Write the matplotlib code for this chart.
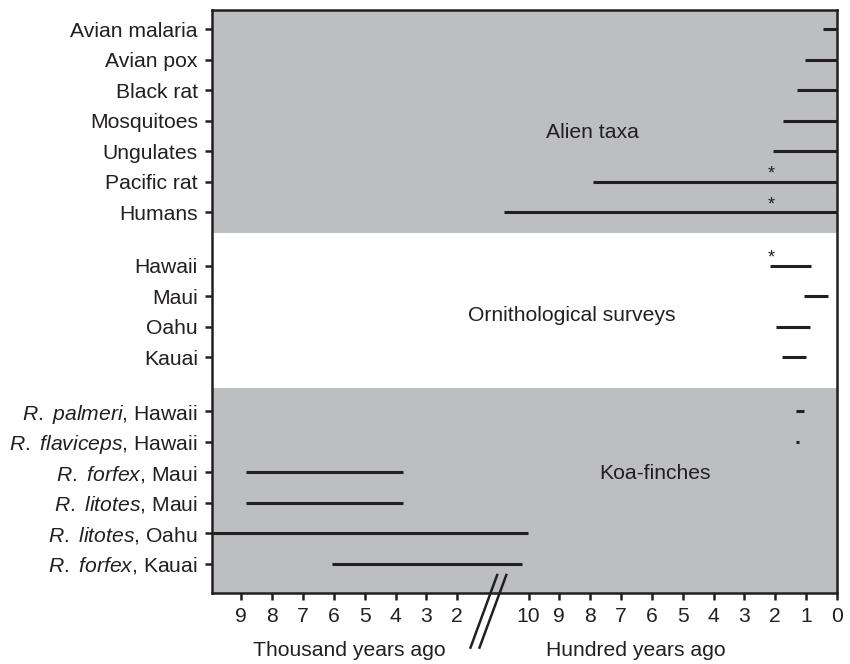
import numpy as np
import matplotlib
matplotlib.use("Agg")
import matplotlib.pyplot as plt
from matplotlib.transforms import blended_transform_factory

plt.rcParams['font.family'] = ['Liberation Sans', 'DejaVu Sans']
plt.rcParams['mathtext.fontset'] = 'custom'
plt.rcParams['mathtext.rm'] = 'Liberation Sans'
plt.rcParams['mathtext.it'] = 'Liberation Sans:italic'

# ---------------- data (years ago) ----------------
alien_labels = ["Avian malaria", "Avian pox", "Black rat", "Mosquitoes",
                "Ungulates", "Pacific rat", "Humans"]
alien_start = [45, 104, 131, 174, 208, 790, 1338]
alien_end = [0, 0, 0, 0, 0, 0, 0]
alien_star = [False, False, False, False, False, True, True]

survey_labels = ["Hawaii", "Maui", "Oahu", "Kauai"]
survey_start = [217, 108, 197, 179]
survey_end = [85, 30, 89, 101]
survey_star = [True, False, False, False]

koa_labels = [r"$\mathit{R.}$ $\mathit{palmeri}$, Hawaii", r"$\mathit{R.}$ $\mathit{flaviceps}$, Hawaii",
              r"$\mathit{R.}$ $\mathit{forfex}$, Maui", r"$\mathit{R.}$ $\mathit{litotes}$, Maui",
              r"$\mathit{R.}$ $\mathit{litotes}$, Oahu", r"$\mathit{R.}$ $\mathit{forfex}$, Kauai"]
koa_start = [134, 133, 8860, 8860, 11000, 6060]
koa_end = [108, 124, 3770, 3770, 1002, 1087]
koa_star = [False] * 6

group_titles = ["Alien taxa", "Ornithological surveys", "Koa-finches"]
star_year = 212

ticks_thousand = [9000, 8000, 7000, 6000, 5000, 4000, 3000, 2000]
ticks_thousand_lbl = ["9", "8", "7", "6", "5", "4", "3", "2"]
ticks_hundred = [1000, 900, 800, 700, 600, 500, 400, 300, 200, 100, 0]
ticks_hundred_lbl = ["10", "9", "8", "7", "6", "5", "4", "3", "2", "1", "0"]

# ---------------- broken time scale ----------------
_years = np.array([0.0, 1000.0, 2000.0, 30000.0])
_units = np.array([0.0, 10.0, 12.31, 12.31 + 28.0])


def fwd(v):
    return np.interp(v, _years, _units)


def inv(u):
    return np.interp(u, _units, _years)


FS = 15.2

# ---------------- layout ----------------
fig = plt.figure(figsize=(8.5, 6.64), dpi=100)
ax = fig.add_axes([211.7 / 850, 1 - 593 / 664, (837 - 211.7) / 850, (593 - 10) / 664])
ax.set_xscale('function', functions=(fwd, inv))
ax.set_xlim(9960, 0)

groups = [(alien_labels, alien_start, alien_end, alien_star),
          (survey_labels, survey_start, survey_end, survey_star),
          (koa_labels, koa_start, koa_end, koa_star)]
ypos_all, labels_all = [], []
group_rows = []
y = 0.63
for gi, (lbls, s, e, st) in enumerate(groups):
    if gi > 0:
        y += 0.76
    rows = []
    for i in range(len(lbls)):
        rows.append(y)
        y += 1
    group_rows.append(rows)
    ypos_all += rows
    labels_all += lbls

ax.set_ylim(19.11, 0)
gray = '#bdbec0'
ax.set_facecolor('white')
ax.axhspan(0, group_rows[0][-1] + 0.68, color=gray, lw=0, zorder=0)
ax.axhspan(group_rows[1][-1] + 1.0, 19.11, color=gray, lw=0, zorder=0)

ink = '#231f20'
for (lbls, s, e, st), rows in zip(groups, group_rows):
    ax.hlines(rows, s, e, color=ink, lw=2.2, zorder=2)
    for r, flag in zip(rows, st):
        if flag:
            ax.text(star_year, r - 0.25, "*", ha='center', va='center',
                    fontsize=13, color=ink, zorder=3)

title_x = [794, 859, 591]
title_y = [4.0, 10.03, 15.18]
for tx, ty, tt in zip(title_x, title_y, group_titles):
    ax.text(tx, ty, tt, ha='center', va='center', fontsize=FS, color=ink)

ax.set_yticks(ypos_all)
ax.set_yticklabels(labels_all, fontsize=FS, color=ink)
ax.set_xticks(ticks_thousand + ticks_hundred)
ax.set_xticklabels(ticks_thousand_lbl + ticks_hundred_lbl, fontsize=FS, color=ink)
ax.tick_params(axis='both', direction='out', length=5, width=1.8, color=ink, pad=5)
for sp in ax.spines.values():
    sp.set_linewidth(1.8)
    sp.set_color(ink)

trans = blended_transform_factory(ax.transData, ax.transAxes)
ax.text(5490, -0.098, "Thousand years ago", transform=trans, ha='center', va='center',
        fontsize=FS, color=ink)
ax.text(653, -0.098, "Hundred years ago", transform=trans, ha='center', va='center',
        fontsize=FS, color=ink)

# break marks
for top_x, bot_x in [(1440, 1814), (1312, 1688)]:
    ax.plot([top_x, bot_x], [18.52, 20.9], color=ink, lw=1.8, clip_on=False, zorder=4)

fig.savefig("out.png", dpi=100)
